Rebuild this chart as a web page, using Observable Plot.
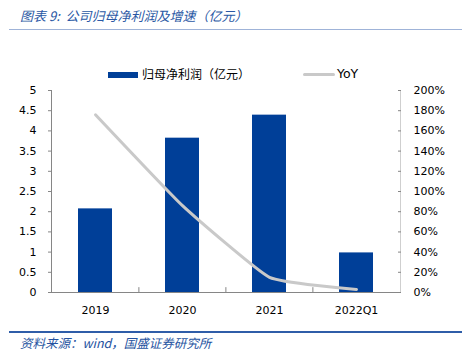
<!DOCTYPE html>
<html>
<head>
<meta charset="utf-8">
<script src="https://cdn.jsdelivr.net/npm/d3@7"></script>
<script src="https://cdn.jsdelivr.net/npm/@observablehq/plot@0.6"></script>
<style>
  html, body { margin: 0; padding: 0; background: #fff; }
  #wrap { width: 471px; height: 364px; position: relative; overflow: hidden; }
  .title { margin: 0 9px; height: 29px; border-bottom: 1px solid #9fb3d8; box-sizing: content-box;
           padding-left: 11px; font: italic 13px/16px "Noto Sans CJK SC", sans-serif; color: #2a58a4;
           padding-top: 0; }
  .title span { display: inline-block; padding-top: 8px; }
  .legend { position: relative; height: 50px; font: 12px/14px "Noto Sans CJK SC", sans-serif; color: #000; }
  .legend .sw1 { position: absolute; left: 108px; top: 42px; width: 30px; height: 6px; background: #003f98; }
  .legend .t1 { position: absolute; left: 142px; top: 37px; }
  .legend .sw2 { position: absolute; left: 303px; top: 43px; width: 32px; height: 3px; background: #c9c9c9; border-radius: 1.5px; }
  .legend .t2 { position: absolute; left: 337px; top: 37px; font: 12.5px/14px "DejaVu Sans", sans-serif; }
  #chart svg { display: block; }
  .caption { margin: 0 9px; border-top: 2px solid #2f5da8; padding-left: 11px; padding-top: 2px;
             font: italic 12.5px/15px "Noto Sans CJK SC", sans-serif; color: #2452a0; }
</style>
</head>
<body>
<div id="wrap">
  <div class="title"><span>图表 9:&nbsp; 公司归母净利润及增速（亿元）</span></div>
  <div class="legend">
    <div class="sw1"></div><div class="t1">归母净利润（亿元）</div>
    <div class="sw2"></div><div class="t2">YoY</div>
  </div>
  <div id="chart"></div>
  <div class="caption">资料来源：wind，国盛证券研究所</div>
</div>
<script>
const categories = ["2019", "2020", "2021", "2022Q1"];
const profit = [2.07, 3.82, 4.39, 0.98];      // 归母净利润（亿元）
const yoy = [176, 86, 15, 3];                  // YoY (%)
const leftTicks = [0, 0.5, 1, 1.5, 2, 2.5, 3, 3.5, 4, 4.5, 5];
const rightTicks = [0, 20, 40, 60, 80, 100, 120, 140, 160, 180, 200];

const leftMax = 5, rightMax = 200;
const k = leftMax / rightMax; // map percent onto left scale

const data = categories.map((c, i) => ({cat: c, profit: profit[i], yoy: yoy[i]}));

const width = 471, height = 251;
const mL = 51, mR = 71, mT = 10, mB = 39;
const step = (width - mL - mR) / categories.length;

const plot = Plot.plot({
  width, height,
  marginLeft: mL, marginRight: mR, marginTop: mT, marginBottom: mB,
  style: {fontFamily: "DejaVu Sans", fontSize: "11px", color: "#000", background: "white"},
  x: {domain: categories, paddingInner: 0.605, paddingOuter: 0.3025, axis: null},
  y: {domain: [0, leftMax], axis: null},
  marks: [
    Plot.barY(data, {x: "cat", y: "profit", fill: "#003f98"}),
    Plot.line(data, {x: "cat", y: d => d.yoy * k, stroke: "#c9c9c9", strokeWidth: 3, curve: "cardinal", tension: 0.6}),
    Plot.ruleY([0], {stroke: "#868686"}),
    Plot.frame({anchor: "left", stroke: "#868686"}),
    Plot.frame({anchor: "right", stroke: "#cfcfcf"}),
    Plot.ruleX(categories.slice(1), {x: d => d, y1: 0, y2: 0.12, dx: -step / 2, stroke: "#868686"}),
    Plot.axisX({tickSize: 0, tickPadding: 14, label: null}),
    Plot.axisY(leftTicks, {anchor: "left", tickSize: 3, tickPadding: 12, stroke: "#868686",
      tickFormat: d => String(d), label: null}),
    Plot.axisY(rightTicks.map(v => v * k), {anchor: "right", tickSize: -3, tickPadding: 16, stroke: "#868686",
      textAnchor: "start", tickFormat: d => Math.round(d / k) + "%", label: null})
  ]
});
document.getElementById("chart").appendChild(plot);
</script>
</body>
</html>
